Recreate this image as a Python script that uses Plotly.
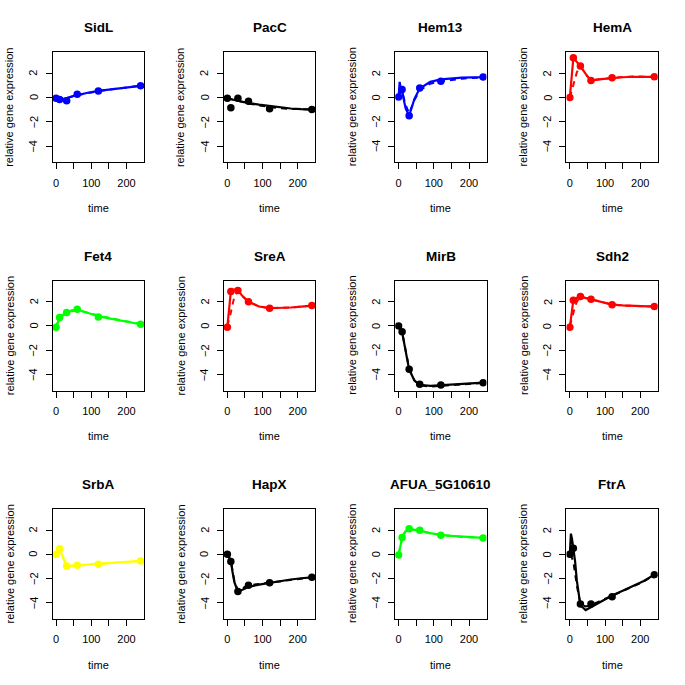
import plotly.graph_objects as go

# ---------------- data ----------------
GENES = ["SidL", "PacC", "Hem13", "HemA",
         "Fet4", "SreA", "MirB", "Sdh2",
         "SrbA", "HapX", "AFUA_5G10610", "FtrA"]
COLORS = ["#0000FF", "#000000", "#0000FF", "#FF0000",
          "#00FF00", "#FF0000", "#000000", "#FF0000",
          "#FFFF00", "#000000", "#00FF00", "#000000"]

TIMES = [0, 10, 30, 60, 120, 240]                  # measured time points
FIT_T = [0, 3, 6, 10, 15, 20, 30, 45, 60, 90, 120, 150, 180, 210, 240]  # fit grid

X_TICKS = [0, 50, 100, 150, 200]
X_TICKTEXT = ["0", "", "100", "", "200"]
Y_TICKS = [-4, -2, 0, 2]
Y_TICKTEXT = ["\u22124", "\u22122", "0", "2"]

# measured values
SidL_pts = [-0.05, -0.15, -0.25, 0.28, 0.55, 0.97]
PacC_pts = [-0.05, -0.83, -0.05, -0.30, -0.92, -0.98]
Hem13_pts = [0.05, 0.66, -1.49, 0.80, 1.35, 1.69]
HemA_pts = [0.0, 3.28, 2.60, 1.40, 1.63, 1.71]
Fet4_pts = [-0.10, 0.69, 1.10, 1.38, 0.74, 0.14]
SreA_pts = [-0.10, 2.84, 2.92, 2.00, 1.46, 1.68]
MirB_pts = [0.0, -0.47, -3.58, -4.82, -4.88, -4.68]
Sdh2_pts = [-0.10, 2.12, 2.42, 2.20, 1.74, 1.60]
SrbA_pts = [0.0, 0.45, -0.96, -0.90, -0.83, -0.55]
HapX_pts = [0.0, -0.60, -3.08, -2.55, -2.35, -1.90]
AFUA_pts = [-0.05, 1.38, 2.10, 1.98, 1.57, 1.35]
FtrA_pts = [0.0, 0.50, -4.10, -4.10, -3.50, -1.68]

# solid fitted curves (on FIT_T)
SidL_fit = [-0.05, -0.08, -0.10, -0.12, -0.13, -0.12, -0.05, 0.10, 0.22, 0.40, 0.55, 0.66, 0.77, 0.87, 0.97]
PacC_fit = [-0.05, -0.08, -0.10, -0.13, -0.16, -0.20, -0.26, -0.36, -0.45, -0.58, -0.70, -0.82, -0.90, -0.95, -0.98]
Hem13_fit = [0.0, 1.30, 0.80, 0.60, -0.20, -0.90, -1.50, -0.10, 0.75, 1.30, 1.50, 1.60, 1.65, 1.67, 1.68]
HemA_fit = [0.0, 1.00, 2.00, 3.28, 3.10, 2.95, 2.60, 1.95, 1.40, 1.52, 1.63, 1.68, 1.72, 1.72, 1.71]
Fet4_fit = [-0.10, 0.15, 0.40, 0.65, 0.80, 0.92, 1.08, 1.28, 1.35, 1.10, 0.80, 0.62, 0.45, 0.30, 0.14]
SreA_fit = [-0.10, 0.80, 1.80, 2.84, 3.00, 3.00, 2.92, 2.40, 2.00, 1.60, 1.46, 1.48, 1.52, 1.60, 1.68]
MirB_fit = [0.0, -0.10, -0.25, -0.50, -1.30, -2.20, -3.60, -4.50, -4.85, -4.95, -4.90, -4.82, -4.75, -4.70, -4.68]
Sdh2_fit = [-0.10, 0.60, 1.30, 2.12, 2.20, 2.30, 2.42, 2.30, 2.20, 1.95, 1.76, 1.70, 1.66, 1.63, 1.60]
SrbA_fit = [0.0, 0.30, 0.60, 0.45, 0.10, -0.30, -0.97, -0.95, -0.92, -0.88, -0.83, -0.76, -0.69, -0.62, -0.55]
HapX_fit = [0.0, -0.15, -0.35, -0.60, -1.50, -2.30, -3.10, -2.90, -2.70, -2.50, -2.35, -2.20, -2.08, -1.98, -1.90]
AFUA_fit = [-0.05, 0.40, 0.85, 1.38, 1.70, 1.90, 2.10, 2.05, 1.95, 1.75, 1.60, 1.52, 1.45, 1.40, 1.35]
FtrA_fit = [0.0, 1.70, 1.30, 0.50, -0.60, -2.20, -4.20, -4.60, -4.35, -3.85, -3.40, -3.00, -2.60, -2.20, -1.68]

# dashed model curves (on FIT_T)
SidL_mod = [0.0, -0.03, -0.06, -0.08, -0.10, -0.10, -0.05, 0.08, 0.20, 0.38, 0.53, 0.65, 0.76, 0.87, 0.98]
PacC_mod = [0.0, -0.05, -0.09, -0.13, -0.17, -0.21, -0.28, -0.38, -0.48, -0.64, -0.78, -0.88, -0.93, -0.96, -0.98]
Hem13_mod = [0.0, 0.20, 0.40, 0.50, 0.00, -0.60, -1.30, -0.20, 0.60, 1.15, 1.35, 1.48, 1.56, 1.62, 1.66]
HemA_mod = [0.0, 0.30, 0.60, 1.00, 1.60, 2.10, 2.60, 1.90, 1.45, 1.55, 1.63, 1.70, 1.74, 1.73, 1.71]
Fet4_mod = [0.0, 0.20, 0.40, 0.60, 0.78, 0.90, 1.05, 1.22, 1.30, 1.12, 0.88, 0.68, 0.50, 0.32, 0.15]
SreA_mod = [0.0, 0.30, 0.70, 1.10, 1.80, 2.40, 2.90, 2.40, 2.00, 1.60, 1.47, 1.47, 1.52, 1.60, 1.68]
MirB_mod = [0.0, -0.10, -0.25, -0.50, -1.20, -2.10, -3.50, -4.50, -4.90, -5.00, -4.95, -4.90, -4.82, -4.75, -4.70]
Sdh2_mod = [0.0, 0.35, 0.70, 1.10, 1.60, 2.00, 2.40, 2.30, 2.20, 1.95, 1.76, 1.68, 1.64, 1.62, 1.60]
SrbA_mod = [0.0, 0.10, 0.20, 0.25, 0.00, -0.35, -0.95, -0.93, -0.90, -0.87, -0.82, -0.76, -0.69, -0.62, -0.55]
HapX_mod = [0.0, -0.10, -0.25, -0.55, -1.40, -2.20, -3.00, -2.75, -2.55, -2.45, -2.33, -2.20, -2.08, -1.98, -1.90]
AFUA_mod = [0.0, 0.40, 0.80, 1.30, 1.65, 1.88, 2.08, 2.02, 1.92, 1.72, 1.58, 1.50, 1.43, 1.38, 1.35]
FtrA_mod = [0.0, -0.10, -0.30, -0.60, -1.60, -2.60, -4.10, -4.30, -4.20, -3.80, -3.45, -3.05, -2.65, -2.25, -1.70]

POINTS = [SidL_pts, PacC_pts, Hem13_pts, HemA_pts, Fet4_pts, SreA_pts,
          MirB_pts, Sdh2_pts, SrbA_pts, HapX_pts, AFUA_pts, FtrA_pts]
FITS = [SidL_fit, PacC_fit, Hem13_fit, HemA_fit, Fet4_fit, SreA_fit,
        MirB_fit, Sdh2_fit, SrbA_fit, HapX_fit, AFUA_fit, FtrA_fit]
MODELS = [SidL_mod, PacC_mod, Hem13_mod, HemA_mod, Fet4_mod, SreA_mod,
          MirB_mod, Sdh2_mod, SrbA_mod, HapX_mod, AFUA_mod, FtrA_mod]

# ---------------- layout ----------------
W = H = 685
CELL_W = W / 4
CELL_H = H / 3
BOX_L, BOX_R = 52.7, 144.0      # plot box within a cell (px)
BOX_T, BOX_B = 52.3, 162.3
FONT = "Liberation Sans, Arial, sans-serif"

fig = go.Figure()
annotations = []
layout_axes = {}

for i, gene in enumerate(GENES):
    r, c = divmod(i, 4)
    n = "" if i == 0 else str(i + 1)
    xref, yref = "x" + n, "y" + n
    col = COLORS[i]

    fig.add_trace(go.Scatter(x=FIT_T, y=MODELS[i], mode="lines", xaxis=xref, yaxis=yref,
                             line=dict(color=col, width=2, dash="6px,5px"),
                             hoverinfo="skip", showlegend=False))
    fig.add_trace(go.Scatter(x=FIT_T, y=FITS[i], mode="lines", xaxis=xref, yaxis=yref,
                             line=dict(color=col, width=2.2),
                             hoverinfo="skip", showlegend=False))
    fig.add_trace(go.Scatter(x=TIMES, y=POINTS[i], mode="markers", xaxis=xref, yaxis=yref,
                             marker=dict(color=col, size=7.5, line=dict(width=0)),
                             showlegend=False))

    px0 = c * CELL_W + BOX_L
    px1 = c * CELL_W + BOX_R
    py0 = r * CELL_H + BOX_T
    py1 = r * CELL_H + BOX_B
    xd = [px0 / W, px1 / W]
    yd = [1 - py1 / H, 1 - py0 / H]

    common = dict(showline=True, mirror=True, linecolor="black", linewidth=1,
                  ticks="outside", ticklen=6, tickwidth=1, tickcolor="black",
                  showgrid=False, zeroline=False,
                  tickfont=dict(family=FONT, size=11, color="black"))
    layout_axes["xaxis" + n] = dict(domain=xd, anchor=yref, range=[-9.6, 249.6],
                                    tickmode="array", tickvals=X_TICKS, ticktext=X_TICKTEXT,
                                    ticklabelstandoff=4, **common)
    layout_axes["yaxis" + n] = dict(domain=yd, anchor=xref, range=[-5.336, 3.736],
                                    tickmode="array", tickvals=Y_TICKS,
                                    showticklabels=False, **common)

    # rotated y tick labels placed on the y scale
    for v, t in zip(Y_TICKS, Y_TICKTEXT):
        annotations.append(dict(text=t, x=(c * CELL_W + 33.5) / W, y=v,
                                xref="paper", yref=yref, showarrow=False, textangle=-90,
                                xanchor="center", yanchor="middle",
                                font=dict(family=FONT, size=11, color="black")))

    cx = (px0 + px1) / 2 / W
    cy = 1 - (py0 + py1) / 2 / H
    annotations.append(dict(text="<b>%s</b>" % gene, x=cx, y=1 - (r * CELL_H + 28) / H,
                            xref="paper", yref="paper", showarrow=False,
                            xanchor="center", yanchor="middle",
                            font=dict(family=FONT, size=13.5, color="black")))
    annotations.append(dict(text="time", x=cx, y=1 - (r * CELL_H + 208) / H,
                            xref="paper", yref="paper", showarrow=False,
                            xanchor="center", yanchor="middle",
                            font=dict(family=FONT, size=11, color="black")))
    annotations.append(dict(text="relative gene expression", x=(c * CELL_W + 9.5) / W, y=cy,
                            xref="paper", yref="paper", showarrow=False, textangle=-90,
                            xanchor="center", yanchor="middle",
                            font=dict(family=FONT, size=11, color="black")))

fig.update_layout(width=W, height=H, margin=dict(l=0, r=0, t=0, b=0),
                  paper_bgcolor="white", plot_bgcolor="white",
                  showlegend=False, annotations=annotations, **layout_axes)

fig.write_html("out.html",
               config={"displayModeBar": False, "staticPlot": True},
               post_script="document.body.style.margin='0';"
                           "document.body.style.padding='0';"
                           "document.body.style.overflow='hidden';")
